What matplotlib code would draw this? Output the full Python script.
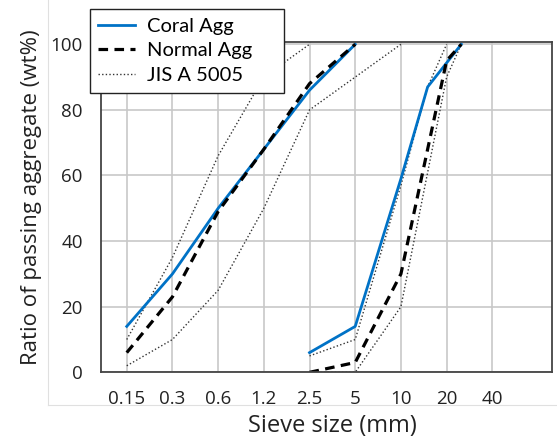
import numpy as np
import matplotlib.pyplot as plt
from matplotlib.lines import Line2D

# sieve sizes on the axis (mm), equally spaced categories
sieve_ticks = [0.15, 0.3, 0.6, 1.2, 2.5, 5, 10, 20, 40]
tick_labels = ['0.15', '0.3', '0.6', '1.2', '2.5', '5', '10', '20', '40']

# fine aggregate
coral_fine_size = [0.15, 0.3, 0.6, 1.2, 2.5, 5]
coral_fine_pass = [14, 30, 50, 68, 86, 100]
normal_fine_size = [0.15, 0.3, 0.6, 1.2, 2.5, 5]
normal_fine_pass = [6, 23, 49, 68, 88, 100]

# coarse aggregate
coral_coarse_size = [2.5, 5, 10, 15, 25]
coral_coarse_pass = [6, 14, 59, 87, 100]
normal_coarse_size = [2.5, 5, 10, 20, 25]
normal_coarse_pass = [0, 3, 30, 95, 100]

# JIS A 5005 limits
jis_fine_upper_size = [0.15, 0.3, 0.6, 1.2, 2.5]
jis_fine_upper_pass = [10, 35, 66, 90, 100]
jis_fine_lower_size = [0.15, 0.3, 0.6, 1.2, 2.5, 5, 10]
jis_fine_lower_pass = [2, 10, 25, 50, 80, 90, 100]
jis_coarse_upper_size = [2.5, 5, 10, 15, 20]
jis_coarse_upper_pass = [5, 10, 57, 87, 100]
jis_coarse_lower_size = [2.5, 5, 10, 20, 25]
jis_coarse_lower_pass = [0, 0, 20, 90, 100]


def pos(sizes):
    # place sizes on the category axis, log-interpolated between ticks
    return np.interp(np.log(sizes), np.log(sieve_ticks), np.arange(len(sieve_ticks)))


blue = '#0072C6'
font = 'Open Sans'

fig = plt.figure(figsize=(5.57, 4.37), dpi=100)
ax = fig.add_axes([0.1808, 0.148, 0.8097, 0.7552])

dot_kw = dict(color='#333333', lw=1.0, ls=(0, (1, 1.6)))
for s, p in [(jis_fine_upper_size, jis_fine_upper_pass),
             (jis_fine_lower_size, jis_fine_lower_pass),
             (jis_coarse_upper_size, jis_coarse_upper_pass),
             (jis_coarse_lower_size, jis_coarse_lower_pass)]:
    ax.plot(pos(s), p, **dot_kw)

ax.plot(pos(coral_fine_size), coral_fine_pass, color=blue, lw=2.0)
ax.plot(pos(coral_coarse_size), coral_coarse_pass, color=blue, lw=2.0)
dash_kw = dict(color='black', lw=2.3, ls=(0, (3, 2)))
ax.plot(pos(normal_fine_size), normal_fine_pass, **dash_kw)
ax.plot(pos(normal_coarse_size), normal_coarse_pass, **dash_kw)

ax.set_xlim(-0.57, 9.3)
ax.set_ylim(0, 100.6)
ax.set_xticks(np.arange(len(sieve_ticks)))
ax.set_xticklabels(tick_labels, fontfamily=font)
ax.set_yticks([0, 20, 40, 60, 80, 100])
ax.set_yticklabels(['0', '20', '40', '60', '80', '100'], fontfamily=font)
ax.tick_params(length=0, pad=13, labelsize=13.5, colors='#222222')
ax.grid(True, color='#c8c8c8', lw=1.2)
ax.set_axisbelow(True)
for sp in ax.spines.values():
    sp.set_color('#444444')
    sp.set_linewidth(1.3)

ax.set_xlabel('Sieve size (mm)', fontsize=17, fontfamily=font, color='#222222')
ax.xaxis.set_label_coords(0.513, -0.125)
ax.set_ylabel('Ratio of passing aggregate (wt%)', fontsize=16, fontfamily=font,
              color='#222222')
ax.yaxis.set_label_coords(-0.13, 0.53)

handles = [Line2D([], [], color=blue, lw=2.0),
           Line2D([], [], **dash_kw),
           Line2D([], [], **dot_kw)]
leg = fig.legend(handles, ['Coral Agg', 'Normal Agg', 'JIS A 5005'],
                 loc='upper left',
                 bbox_to_anchor=(90 / 557, 1 - 9 / 437 - 0.1, 194 / 557, 0.1),
                 mode='expand',
                 borderaxespad=0, fancybox=False, framealpha=1,
                 edgecolor='#222222', handlelength=1.8, handletextpad=0.6,
                 labelspacing=0.38, borderpad=0.42,
                 prop={'family': 'Lato', 'size': 14.5})
leg.get_frame().set_linewidth(1.0)

# faint frame from the source image
fig.add_artist(Line2D([48 / 557, 48 / 557], [1, 1 - 405 / 437], color='#e0e0e0', lw=0.8))
fig.add_artist(Line2D([48 / 557, 1], [1 - 405 / 437, 1 - 405 / 437], color='#e0e0e0', lw=0.8))

fig.savefig('out.png', dpi=100)
